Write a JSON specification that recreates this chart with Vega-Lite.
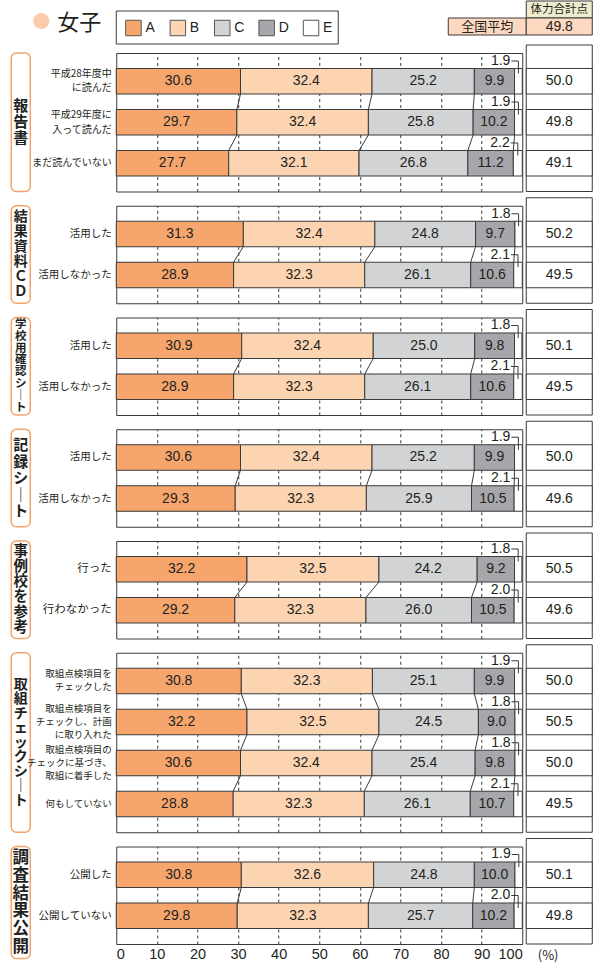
{
 "$schema": "https://vega.github.io/schema/vega-lite/v6.json",
 "padding": {"left": 10.25, "top": 0, "right": 3, "bottom": 2},
 "autosize": {"type": "pad"},
 "background": "white",
 "config": {
  "font": "Noto Sans CJK JP",
  "view": {"stroke": "#3a3a3a", "strokeWidth": 1},
  "text": {"color": "#231f20"}
 },
 "datasets": {
  "segs": [{"seg": "A"}, {"seg": "B"}, {"seg": "C"}, {"seg": "D"}, {"seg": "E"}],
  "national": [{"label": "全国平均", "score": 49.8}],
  "groups": [{"g": "報告書"}, {"g": "結果資料ＣＤ"}, {"g": "学校用確認シート"}, {"g": "記録シート"}, {"g": "事例校を参考"}, {"g": "取組チェックシート"}, {"g": "調査結果公開"}],
  "rows": [
   {"g": "報告書", "label": "平成28年度中\nに読んだ", "order": 1, "A": 30.6, "B": 32.4, "C": 25.2, "D": 9.9, "E": 1.9, "score": 50.0},
   {"g": "報告書", "label": "平成29年度に\n入って読んだ", "order": 2, "A": 29.7, "B": 32.4, "C": 25.8, "D": 10.2, "E": 1.9, "score": 49.8},
   {"g": "報告書", "label": "まだ読んでいない", "order": 3, "A": 27.7, "B": 32.1, "C": 26.8, "D": 11.2, "E": 2.2, "score": 49.1},
   {"g": "結果資料ＣＤ", "label": "活用した", "order": 1, "A": 31.3, "B": 32.4, "C": 24.8, "D": 9.7, "E": 1.8, "score": 50.2},
   {"g": "結果資料ＣＤ", "label": "活用しなかった", "order": 2, "A": 28.9, "B": 32.3, "C": 26.1, "D": 10.6, "E": 2.1, "score": 49.5},
   {"g": "学校用確認シート", "label": "活用した", "order": 1, "A": 30.9, "B": 32.4, "C": 25.0, "D": 9.8, "E": 1.8, "score": 50.1},
   {"g": "学校用確認シート", "label": "活用しなかった", "order": 2, "A": 28.9, "B": 32.3, "C": 26.1, "D": 10.6, "E": 2.1, "score": 49.5},
   {"g": "記録シート", "label": "活用した", "order": 1, "A": 30.6, "B": 32.4, "C": 25.2, "D": 9.9, "E": 1.9, "score": 50.0},
   {"g": "記録シート", "label": "活用しなかった", "order": 2, "A": 29.3, "B": 32.3, "C": 25.9, "D": 10.5, "E": 2.1, "score": 49.6},
   {"g": "事例校を参考", "label": "行った", "order": 1, "A": 32.2, "B": 32.5, "C": 24.2, "D": 9.2, "E": 1.8, "score": 50.5},
   {"g": "事例校を参考", "label": "行わなかった", "order": 2, "A": 29.2, "B": 32.3, "C": 26.0, "D": 10.5, "E": 2.0, "score": 49.6},
   {"g": "取組チェックシート", "label": "取組点検項目を\nチェックした", "order": 1, "A": 30.8, "B": 32.3, "C": 25.1, "D": 9.9, "E": 1.9, "score": 50.0},
   {"g": "取組チェックシート", "label": "取組点検項目を\nチェックし、計画\nに取り入れた", "order": 2, "A": 32.2, "B": 32.5, "C": 24.5, "D": 9.0, "E": 1.8, "score": 50.5},
   {"g": "取組チェックシート", "label": "取組点検項目の\nチェックに基づき、\n取組に着手した", "order": 3, "A": 30.6, "B": 32.4, "C": 25.4, "D": 9.8, "E": 1.8, "score": 50.0},
   {"g": "取組チェックシート", "label": "何もしていない", "order": 4, "A": 28.8, "B": 32.3, "C": 26.1, "D": 10.7, "E": 2.1, "score": 49.5},
   {"g": "調査結果公開", "label": "公開した", "order": 1, "A": 30.8, "B": 32.6, "C": 24.8, "D": 10.0, "E": 1.9, "score": 50.1},
   {"g": "調査結果公開", "label": "公開していない", "order": 2, "A": 29.8, "B": 32.3, "C": 25.7, "D": 10.2, "E": 2.0, "score": 49.8}
  ]
 },
 "spacing": -1,
 "vconcat": [
  {
   "bounds": "flush", "spacing": 4,
   "hconcat": [
    {"width": 101, "height": 43, "view": {"stroke": null},
     "data": {"values": [{"t": "女子"}]},
     "layer": [
      {"mark": {"type": "point", "shape": "circle", "filled": true, "color": "#FBCCAA", "opacity": 1, "size": 260, "xOffset": -20.5, "yOffset": -1.5}},
      {"mark": {"type": "text", "fontSize": 22, "align": "left", "dx": -4.5, "color": "#231f20"}, "encoding": {"text": {"field": "t"}}}
     ]},
    {"width": 406, "height": 43, "view": {"stroke": null},
     "resolve": {"scale": {"x": "independent", "y": "independent"}},
     "layer": [
      {"data": {"values": [{}]},
       "mark": {"type": "rect", "fill": "white", "stroke": "#3a3a3a", "strokeWidth": 1},
       "encoding": {"x": {"datum": "legend", "type": "nominal", "scale": {"type": "band", "domain": ["legend"], "range": [0, 222], "paddingInner": 0, "paddingOuter": 0}, "axis": null},
                    "y": {"datum": "legend", "type": "nominal", "scale": {"type": "band", "domain": ["legend"], "range": [10, 43], "paddingInner": 0, "paddingOuter": 0}, "axis": null}}},
      {"data": {"name": "segs"},
       "mark": {"type": "point", "shape": "square", "filled": true, "opacity": 1, "size": 240, "stroke": "#555555", "strokeWidth": 1, "xOffset": -5, "yOffset": 5.5},
       "encoding": {"x": {"field": "seg", "type": "nominal", "scale": {"type": "band", "domain": ["A", "B", "C", "D", "E"], "range": [0, 222], "paddingInner": 0, "paddingOuter": 0}, "axis": null},
                    "fill": {"field": "seg", "type": "nominal", "scale": {"domain": ["A", "B", "C", "D", "E"], "range": ["#F6A66C", "#FCD4B2", "#D2D3D5", "#A6A7AA", "#FFFFFF"]}, "legend": null}}},
      {"data": {"name": "segs"},
       "mark": {"type": "text", "align": "left", "dx": 7, "dy": 5.5, "fontSize": 14, "font": "Liberation Sans", "color": "#231f20"},
       "encoding": {"x": {"field": "seg", "type": "nominal", "scale": {"type": "band", "domain": ["A", "B", "C", "D", "E"], "range": [0, 222], "paddingInner": 0, "paddingOuter": 0}, "axis": null},
                    "text": {"field": "seg"}}},
      {"data": {"name": "national"},
       "mark": {"type": "rect", "fill": "#FCD9C0", "stroke": "#3a3a3a", "strokeWidth": 1},
       "encoding": {"x": {"field": "label", "type": "nominal", "scale": {"type": "band", "domain": ["全国平均"], "range": [332, 410], "paddingInner": 0, "paddingOuter": 0}, "axis": null},
                    "y": {"field": "label", "type": "nominal", "scale": {"type": "band", "domain": ["全国平均"], "range": [17, 34], "paddingInner": 0, "paddingOuter": 0}, "axis": null}}},
      {"data": {"name": "national"},
       "mark": {"type": "text", "fontSize": 13, "color": "#231f20"},
       "encoding": {"x": {"field": "label", "type": "nominal", "scale": {"type": "band", "domain": ["全国平均"], "range": [332, 410], "paddingInner": 0, "paddingOuter": 0}, "axis": null},
                    "y": {"field": "label", "type": "nominal", "scale": {"type": "band", "domain": ["全国平均"], "range": [17, 34], "paddingInner": 0, "paddingOuter": 0}, "axis": null},
                    "text": {"field": "label"}}}
     ]},
    {"width": 66, "height": 43, "view": {"stroke": null},
     "data": {"name": "national"},
     "layer": [
      {"mark": {"type": "rect", "fill": "#EFEBCE", "stroke": "#3a3a3a", "strokeWidth": 1},
       "encoding": {"y": {"datum": "体力合計点", "type": "nominal", "scale": {"type": "band", "domain": ["体力合計点", "全国平均"], "range": [0, 34], "paddingInner": 0, "paddingOuter": 0}, "axis": null}}},
      {"mark": {"type": "text", "text": "体力合計点", "fontSize": 11.5, "color": "#231f20"},
       "encoding": {"y": {"datum": "体力合計点", "type": "nominal"}}},
      {"mark": {"type": "rect", "fill": "#FCD9C0", "stroke": "#3a3a3a", "strokeWidth": 1},
       "encoding": {"y": {"field": "label", "type": "nominal"}}},
      {"mark": {"type": "text", "fontSize": 14, "font": "Liberation Sans", "color": "#231f20"},
       "encoding": {"y": {"field": "label", "type": "nominal"}, "text": {"field": "score", "type": "quantitative", "format": ".1f"}}}
     ]}
   ]
  },
  {
   "spacing": 3.75,
   "vconcat": [
    {"bounds": "flush", "spacing": 4, "hconcat": [
     {"width": 101, "height": 138.5, "view": {"stroke": null}, "data": {"name": "groups"},
      "transform": [{"filter": {"field": "g", "equal": "報告書"}}, {"calculate": "split(replace(datum.g, 'ー', '｜'), '')", "as": "chars"}],
      "encoding": {"x": {"field": "g", "type": "nominal", "scale": {"type": "band", "range": [0, 19], "paddingInner": 0, "paddingOuter": 0}, "axis": null}},
      "layer": [
       {"mark": {"type": "rect", "fill": "white", "stroke": "#F4A46C", "strokeWidth": 1.5, "cornerRadius": 5}},
       {"mark": {"type": "text", "fontSize": 15, "lineHeight": 16, "dy": -16, "fontWeight": "bold", "color": "#231f20"}, "encoding": {"text": {"field": "chars"}}}
      ]},
     {"width": 406, "height": 138.5, "data": {"name": "rows"},
      "transform": [
       {"filter": {"field": "g", "equal": "報告書"}},
       {"fold": ["A", "B", "C", "D", "E"], "as": ["seg", "value"]},
       {"stack": "value", "groupby": ["label"], "sort": [{"field": "seg", "order": "ascending"}], "as": ["x0", "x1"]},
       {"calculate": "(datum.x0 + datum.x1) / 2", "as": "xm"}
      ],
      "encoding": {"y": {"field": "label", "type": "nominal", "scale": {"type": "band", "domain": ["平成28年度中\nに読んだ", "平成29年度に\n入って読んだ", "まだ読んでいない"], "paddingInner": 0.378, "paddingOuter": 0.378, "round": false},
       "axis": {"title": null, "domain": false, "ticks": false, "labelPadding": 5, "labelFontSize": 10, "labelLineHeight": 14.5, "labelExpr": "split(datum.label, '\\n')", "labelColor": "#231f20", "labelLimit": 0, "labelFont": "Noto Sans CJK JP",
        "labelOffset": {"condition": [{"test": "length(split(datum.label, '\\n')) == 3", "value": -14.5}, {"test": "length(split(datum.label, '\\n')) == 2", "value": -7.25}], "value": 0}}}},
      "layer": [
       {"mark": {"type": "bar", "stroke": "#3a3a3a", "strokeWidth": 1},
        "encoding": {"x": {"field": "x0", "type": "quantitative", "scale": {"domain": [0, 100], "nice": false, "zero": false},
          "axis": {"grid": true, "values": [10, 20, 30, 40, 50, 60, 70, 80, 90], "labels": false, "ticks": false, "domain": false, "title": null, "gridDash": [3, 3], "gridColor": "#3a3a3a", "gridOpacity": 1}},
         "x2": {"field": "x1"},
         "color": {"field": "seg", "type": "nominal", "scale": {"domain": ["A", "B", "C", "D", "E"], "range": ["#F6A66C", "#FCD4B2", "#D2D3D5", "#A6A7AA", "#FFFFFF"]}, "legend": null}}},
       {"transform": [{"window": [{"op": "lead", "field": "x1", "as": "nx"}, {"op": "lead", "field": "label", "as": "nl"}], "groupby": ["seg"], "sort": [{"field": "order", "order": "ascending"}]}, {"filter": "datum.nl != null && datum.seg != 'E'"}],
        "mark": {"type": "rule", "color": "#3a3a3a", "strokeWidth": 1},
        "encoding": {"x": {"field": "x1", "type": "quantitative"}, "x2": {"field": "nx"}, "y": {"field": "label", "type": "nominal", "bandPosition": 1}, "y2": {"field": "nl", "bandPosition": 0}}},
       {"transform": [{"filter": "datum.seg != 'E'"}], "mark": {"type": "text", "fontSize": 14, "font": "Liberation Sans", "color": "#231f20"},
        "encoding": {"x": {"field": "xm", "type": "quantitative"}, "text": {"field": "value", "type": "quantitative", "format": ".1f"}}},
       {"transform": [{"filter": "datum.seg == 'E'"}], "mark": {"type": "text", "fontSize": 14, "font": "Liberation Sans", "align": "right", "dx": -8, "dy": -7.5, "color": "#231f20"},
        "encoding": {"x": {"field": "xm", "type": "quantitative"}, "y": {"field": "label", "type": "nominal", "bandPosition": 0}, "text": {"field": "value", "type": "quantitative", "format": ".1f"}}},
       {"transform": [{"filter": "datum.seg == 'E'"}], "mark": {"type": "rule", "color": "#3a3a3a", "strokeWidth": 1, "xOffset": -7, "yOffset": -7.5, "y2Offset": -7.5},
        "encoding": {"x": {"field": "xm", "type": "quantitative"}, "x2": {"field": "xm"}, "y": {"field": "label", "type": "nominal", "bandPosition": 0}}},
       {"transform": [{"filter": "datum.seg == 'E'"}], "mark": {"type": "rule", "color": "#3a3a3a", "strokeWidth": 1, "yOffset": -7.5, "y2Offset": 5},
        "encoding": {"x": {"field": "xm", "type": "quantitative"}, "y": {"field": "label", "type": "nominal", "bandPosition": 0}, "y2": {"field": "label", "bandPosition": 0}}}
      ]},
     {"width": 66, "height": 138.5, "view": {"stroke": null}, "data": {"name": "rows"},
      "transform": [{"filter": {"field": "g", "equal": "報告書"}}],
      "layer": [
       {"transform": [{"aggregate": [{"op": "count", "as": "n"}]}], "mark": {"type": "rect", "fill": "white", "stroke": "#3a3a3a", "strokeWidth": 1, "yOffset": -8}},
       {"mark": {"type": "rect", "fill": "white", "stroke": "#3a3a3a", "strokeWidth": 1},
        "encoding": {"y": {"field": "label", "type": "nominal", "scale": {"type": "band", "domain": ["平成28年度中\nに読んだ", "平成29年度に\n入って読んだ", "まだ読んでいない"], "paddingInner": 0.378, "paddingOuter": 0.378, "round": false}, "axis": null}}},
       {"mark": {"type": "text", "fontSize": 14, "font": "Liberation Sans", "color": "#231f20"},
        "encoding": {"y": {"field": "label", "type": "nominal"}, "text": {"field": "score", "type": "quantitative", "format": ".1f"}}}
      ]}
    ]},
    {"bounds": "flush", "spacing": 4, "hconcat": [
     {"width": 101, "height": 97.5, "view": {"stroke": null}, "data": {"name": "groups"},
      "transform": [{"filter": {"field": "g", "equal": "結果資料ＣＤ"}}, {"calculate": "split(replace(datum.g, 'ー', '｜'), '')", "as": "chars"}],
      "encoding": {"x": {"field": "g", "type": "nominal", "scale": {"type": "band", "range": [0, 19], "paddingInner": 0, "paddingOuter": 0}, "axis": null}},
      "layer": [
       {"mark": {"type": "rect", "fill": "white", "stroke": "#F4A46C", "strokeWidth": 1.5, "cornerRadius": 5}},
       {"mark": {"type": "text", "fontSize": 14, "lineHeight": 15, "dy": -37.5, "fontWeight": "bold", "color": "#231f20"}, "encoding": {"text": {"field": "chars"}}}
      ]},
     {"width": 406, "height": 97.5, "data": {"name": "rows"},
      "transform": [
       {"filter": {"field": "g", "equal": "結果資料ＣＤ"}},
       {"fold": ["A", "B", "C", "D", "E"], "as": ["seg", "value"]},
       {"stack": "value", "groupby": ["label"], "sort": [{"field": "seg", "order": "ascending"}], "as": ["x0", "x1"]},
       {"calculate": "(datum.x0 + datum.x1) / 2", "as": "xm"}
      ],
      "encoding": {"y": {"field": "label", "type": "nominal", "scale": {"type": "band", "domain": ["活用した", "活用しなかった"], "paddingInner": 0.378, "paddingOuter": 0.378, "round": false},
       "axis": {"title": null, "domain": false, "ticks": false, "labelPadding": 5, "labelFontSize": 10.5, "labelLineHeight": 14, "labelExpr": "split(datum.label, '\\n')", "labelColor": "#231f20", "labelLimit": 0, "labelFont": "Noto Sans CJK JP"}}},
      "layer": [
       {"mark": {"type": "bar", "stroke": "#3a3a3a", "strokeWidth": 1},
        "encoding": {"x": {"field": "x0", "type": "quantitative", "scale": {"domain": [0, 100], "nice": false, "zero": false},
          "axis": {"grid": true, "values": [10, 20, 30, 40, 50, 60, 70, 80, 90], "labels": false, "ticks": false, "domain": false, "title": null, "gridDash": [3, 3], "gridColor": "#3a3a3a", "gridOpacity": 1}},
         "x2": {"field": "x1"},
         "color": {"field": "seg", "type": "nominal", "scale": {"domain": ["A", "B", "C", "D", "E"], "range": ["#F6A66C", "#FCD4B2", "#D2D3D5", "#A6A7AA", "#FFFFFF"]}, "legend": null}}},
       {"transform": [{"window": [{"op": "lead", "field": "x1", "as": "nx"}, {"op": "lead", "field": "label", "as": "nl"}], "groupby": ["seg"], "sort": [{"field": "order", "order": "ascending"}]}, {"filter": "datum.nl != null && datum.seg != 'E'"}],
        "mark": {"type": "rule", "color": "#3a3a3a", "strokeWidth": 1},
        "encoding": {"x": {"field": "x1", "type": "quantitative"}, "x2": {"field": "nx"}, "y": {"field": "label", "type": "nominal", "bandPosition": 1}, "y2": {"field": "nl", "bandPosition": 0}}},
       {"transform": [{"filter": "datum.seg != 'E'"}], "mark": {"type": "text", "fontSize": 14, "font": "Liberation Sans", "color": "#231f20"},
        "encoding": {"x": {"field": "xm", "type": "quantitative"}, "text": {"field": "value", "type": "quantitative", "format": ".1f"}}},
       {"transform": [{"filter": "datum.seg == 'E'"}], "mark": {"type": "text", "fontSize": 14, "font": "Liberation Sans", "align": "right", "dx": -8, "dy": -7.5, "color": "#231f20"},
        "encoding": {"x": {"field": "xm", "type": "quantitative"}, "y": {"field": "label", "type": "nominal", "bandPosition": 0}, "text": {"field": "value", "type": "quantitative", "format": ".1f"}}},
       {"transform": [{"filter": "datum.seg == 'E'"}], "mark": {"type": "rule", "color": "#3a3a3a", "strokeWidth": 1, "xOffset": -7, "yOffset": -7.5, "y2Offset": -7.5},
        "encoding": {"x": {"field": "xm", "type": "quantitative"}, "x2": {"field": "xm"}, "y": {"field": "label", "type": "nominal", "bandPosition": 0}}},
       {"transform": [{"filter": "datum.seg == 'E'"}], "mark": {"type": "rule", "color": "#3a3a3a", "strokeWidth": 1, "yOffset": -7.5, "y2Offset": 5},
        "encoding": {"x": {"field": "xm", "type": "quantitative"}, "y": {"field": "label", "type": "nominal", "bandPosition": 0}, "y2": {"field": "label", "bandPosition": 0}}}
      ]},
     {"width": 66, "height": 97.5, "view": {"stroke": null}, "data": {"name": "rows"},
      "transform": [{"filter": {"field": "g", "equal": "結果資料ＣＤ"}}],
      "layer": [
       {"transform": [{"aggregate": [{"op": "count", "as": "n"}]}], "mark": {"type": "rect", "fill": "white", "stroke": "#3a3a3a", "strokeWidth": 1, "yOffset": -8}},
       {"mark": {"type": "rect", "fill": "white", "stroke": "#3a3a3a", "strokeWidth": 1},
        "encoding": {"y": {"field": "label", "type": "nominal", "scale": {"type": "band", "domain": ["活用した", "活用しなかった"], "paddingInner": 0.378, "paddingOuter": 0.378, "round": false}, "axis": null}}},
       {"mark": {"type": "text", "fontSize": 14, "font": "Liberation Sans", "color": "#231f20"},
        "encoding": {"y": {"field": "label", "type": "nominal"}, "text": {"field": "score", "type": "quantitative", "format": ".1f"}}}
      ]}
    ]},
    {"bounds": "flush", "spacing": 4, "hconcat": [
     {"width": 101, "height": 97.5, "view": {"stroke": null}, "data": {"name": "groups"},
      "transform": [{"filter": {"field": "g", "equal": "学校用確認シート"}}, {"calculate": "split(replace(datum.g, 'ー', '｜'), '')", "as": "chars"}],
      "encoding": {"x": {"field": "g", "type": "nominal", "scale": {"type": "band", "range": [0, 19], "paddingInner": 0, "paddingOuter": 0}, "axis": null}},
      "layer": [
       {"mark": {"type": "rect", "fill": "white", "stroke": "#F4A46C", "strokeWidth": 1.5, "cornerRadius": 5}},
       {"mark": {"type": "text", "fontSize": 11.5, "lineHeight": 11.8, "dy": -41.3, "fontWeight": "bold", "color": "#231f20"}, "encoding": {"text": {"field": "chars"}}}
      ]},
     {"width": 406, "height": 97.5, "data": {"name": "rows"},
      "transform": [
       {"filter": {"field": "g", "equal": "学校用確認シート"}},
       {"fold": ["A", "B", "C", "D", "E"], "as": ["seg", "value"]},
       {"stack": "value", "groupby": ["label"], "sort": [{"field": "seg", "order": "ascending"}], "as": ["x0", "x1"]},
       {"calculate": "(datum.x0 + datum.x1) / 2", "as": "xm"}
      ],
      "encoding": {"y": {"field": "label", "type": "nominal", "scale": {"type": "band", "domain": ["活用した", "活用しなかった"], "paddingInner": 0.378, "paddingOuter": 0.378, "round": false},
       "axis": {"title": null, "domain": false, "ticks": false, "labelPadding": 5, "labelFontSize": 10.5, "labelLineHeight": 14, "labelExpr": "split(datum.label, '\\n')", "labelColor": "#231f20", "labelLimit": 0, "labelFont": "Noto Sans CJK JP"}}},
      "layer": [
       {"mark": {"type": "bar", "stroke": "#3a3a3a", "strokeWidth": 1},
        "encoding": {"x": {"field": "x0", "type": "quantitative", "scale": {"domain": [0, 100], "nice": false, "zero": false},
          "axis": {"grid": true, "values": [10, 20, 30, 40, 50, 60, 70, 80, 90], "labels": false, "ticks": false, "domain": false, "title": null, "gridDash": [3, 3], "gridColor": "#3a3a3a", "gridOpacity": 1}},
         "x2": {"field": "x1"},
         "color": {"field": "seg", "type": "nominal", "scale": {"domain": ["A", "B", "C", "D", "E"], "range": ["#F6A66C", "#FCD4B2", "#D2D3D5", "#A6A7AA", "#FFFFFF"]}, "legend": null}}},
       {"transform": [{"window": [{"op": "lead", "field": "x1", "as": "nx"}, {"op": "lead", "field": "label", "as": "nl"}], "groupby": ["seg"], "sort": [{"field": "order", "order": "ascending"}]}, {"filter": "datum.nl != null && datum.seg != 'E'"}],
        "mark": {"type": "rule", "color": "#3a3a3a", "strokeWidth": 1},
        "encoding": {"x": {"field": "x1", "type": "quantitative"}, "x2": {"field": "nx"}, "y": {"field": "label", "type": "nominal", "bandPosition": 1}, "y2": {"field": "nl", "bandPosition": 0}}},
       {"transform": [{"filter": "datum.seg != 'E'"}], "mark": {"type": "text", "fontSize": 14, "font": "Liberation Sans", "color": "#231f20"},
        "encoding": {"x": {"field": "xm", "type": "quantitative"}, "text": {"field": "value", "type": "quantitative", "format": ".1f"}}},
       {"transform": [{"filter": "datum.seg == 'E'"}], "mark": {"type": "text", "fontSize": 14, "font": "Liberation Sans", "align": "right", "dx": -8, "dy": -7.5, "color": "#231f20"},
        "encoding": {"x": {"field": "xm", "type": "quantitative"}, "y": {"field": "label", "type": "nominal", "bandPosition": 0}, "text": {"field": "value", "type": "quantitative", "format": ".1f"}}},
       {"transform": [{"filter": "datum.seg == 'E'"}], "mark": {"type": "rule", "color": "#3a3a3a", "strokeWidth": 1, "xOffset": -7, "yOffset": -7.5, "y2Offset": -7.5},
        "encoding": {"x": {"field": "xm", "type": "quantitative"}, "x2": {"field": "xm"}, "y": {"field": "label", "type": "nominal", "bandPosition": 0}}},
       {"transform": [{"filter": "datum.seg == 'E'"}], "mark": {"type": "rule", "color": "#3a3a3a", "strokeWidth": 1, "yOffset": -7.5, "y2Offset": 5},
        "encoding": {"x": {"field": "xm", "type": "quantitative"}, "y": {"field": "label", "type": "nominal", "bandPosition": 0}, "y2": {"field": "label", "bandPosition": 0}}}
      ]},
     {"width": 66, "height": 97.5, "view": {"stroke": null}, "data": {"name": "rows"},
      "transform": [{"filter": {"field": "g", "equal": "学校用確認シート"}}],
      "layer": [
       {"transform": [{"aggregate": [{"op": "count", "as": "n"}]}], "mark": {"type": "rect", "fill": "white", "stroke": "#3a3a3a", "strokeWidth": 1, "yOffset": -8}},
       {"mark": {"type": "rect", "fill": "white", "stroke": "#3a3a3a", "strokeWidth": 1},
        "encoding": {"y": {"field": "label", "type": "nominal", "scale": {"type": "band", "domain": ["活用した", "活用しなかった"], "paddingInner": 0.378, "paddingOuter": 0.378, "round": false}, "axis": null}}},
       {"mark": {"type": "text", "fontSize": 14, "font": "Liberation Sans", "color": "#231f20"},
        "encoding": {"y": {"field": "label", "type": "nominal"}, "text": {"field": "score", "type": "quantitative", "format": ".1f"}}}
      ]}
    ]},
    {"bounds": "flush", "spacing": 4, "hconcat": [
     {"width": 101, "height": 97.5, "view": {"stroke": null}, "data": {"name": "groups"},
      "transform": [{"filter": {"field": "g", "equal": "記録シート"}}, {"calculate": "split(replace(datum.g, 'ー', '｜'), '')", "as": "chars"}],
      "encoding": {"x": {"field": "g", "type": "nominal", "scale": {"type": "band", "range": [0, 19], "paddingInner": 0, "paddingOuter": 0}, "axis": null}},
      "layer": [
       {"mark": {"type": "rect", "fill": "white", "stroke": "#F4A46C", "strokeWidth": 1.5, "cornerRadius": 5}},
       {"mark": {"type": "text", "fontSize": 15, "lineHeight": 16.5, "dy": -33, "fontWeight": "bold", "color": "#231f20"}, "encoding": {"text": {"field": "chars"}}}
      ]},
     {"width": 406, "height": 97.5, "data": {"name": "rows"},
      "transform": [
       {"filter": {"field": "g", "equal": "記録シート"}},
       {"fold": ["A", "B", "C", "D", "E"], "as": ["seg", "value"]},
       {"stack": "value", "groupby": ["label"], "sort": [{"field": "seg", "order": "ascending"}], "as": ["x0", "x1"]},
       {"calculate": "(datum.x0 + datum.x1) / 2", "as": "xm"}
      ],
      "encoding": {"y": {"field": "label", "type": "nominal", "scale": {"type": "band", "domain": ["活用した", "活用しなかった"], "paddingInner": 0.378, "paddingOuter": 0.378, "round": false},
       "axis": {"title": null, "domain": false, "ticks": false, "labelPadding": 5, "labelFontSize": 10.5, "labelLineHeight": 14, "labelExpr": "split(datum.label, '\\n')", "labelColor": "#231f20", "labelLimit": 0, "labelFont": "Noto Sans CJK JP"}}},
      "layer": [
       {"mark": {"type": "bar", "stroke": "#3a3a3a", "strokeWidth": 1},
        "encoding": {"x": {"field": "x0", "type": "quantitative", "scale": {"domain": [0, 100], "nice": false, "zero": false},
          "axis": {"grid": true, "values": [10, 20, 30, 40, 50, 60, 70, 80, 90], "labels": false, "ticks": false, "domain": false, "title": null, "gridDash": [3, 3], "gridColor": "#3a3a3a", "gridOpacity": 1}},
         "x2": {"field": "x1"},
         "color": {"field": "seg", "type": "nominal", "scale": {"domain": ["A", "B", "C", "D", "E"], "range": ["#F6A66C", "#FCD4B2", "#D2D3D5", "#A6A7AA", "#FFFFFF"]}, "legend": null}}},
       {"transform": [{"window": [{"op": "lead", "field": "x1", "as": "nx"}, {"op": "lead", "field": "label", "as": "nl"}], "groupby": ["seg"], "sort": [{"field": "order", "order": "ascending"}]}, {"filter": "datum.nl != null && datum.seg != 'E'"}],
        "mark": {"type": "rule", "color": "#3a3a3a", "strokeWidth": 1},
        "encoding": {"x": {"field": "x1", "type": "quantitative"}, "x2": {"field": "nx"}, "y": {"field": "label", "type": "nominal", "bandPosition": 1}, "y2": {"field": "nl", "bandPosition": 0}}},
       {"transform": [{"filter": "datum.seg != 'E'"}], "mark": {"type": "text", "fontSize": 14, "font": "Liberation Sans", "color": "#231f20"},
        "encoding": {"x": {"field": "xm", "type": "quantitative"}, "text": {"field": "value", "type": "quantitative", "format": ".1f"}}},
       {"transform": [{"filter": "datum.seg == 'E'"}], "mark": {"type": "text", "fontSize": 14, "font": "Liberation Sans", "align": "right", "dx": -8, "dy": -7.5, "color": "#231f20"},
        "encoding": {"x": {"field": "xm", "type": "quantitative"}, "y": {"field": "label", "type": "nominal", "bandPosition": 0}, "text": {"field": "value", "type": "quantitative", "format": ".1f"}}},
       {"transform": [{"filter": "datum.seg == 'E'"}], "mark": {"type": "rule", "color": "#3a3a3a", "strokeWidth": 1, "xOffset": -7, "yOffset": -7.5, "y2Offset": -7.5},
        "encoding": {"x": {"field": "xm", "type": "quantitative"}, "x2": {"field": "xm"}, "y": {"field": "label", "type": "nominal", "bandPosition": 0}}},
       {"transform": [{"filter": "datum.seg == 'E'"}], "mark": {"type": "rule", "color": "#3a3a3a", "strokeWidth": 1, "yOffset": -7.5, "y2Offset": 5},
        "encoding": {"x": {"field": "xm", "type": "quantitative"}, "y": {"field": "label", "type": "nominal", "bandPosition": 0}, "y2": {"field": "label", "bandPosition": 0}}}
      ]},
     {"width": 66, "height": 97.5, "view": {"stroke": null}, "data": {"name": "rows"},
      "transform": [{"filter": {"field": "g", "equal": "記録シート"}}],
      "layer": [
       {"transform": [{"aggregate": [{"op": "count", "as": "n"}]}], "mark": {"type": "rect", "fill": "white", "stroke": "#3a3a3a", "strokeWidth": 1, "yOffset": -8}},
       {"mark": {"type": "rect", "fill": "white", "stroke": "#3a3a3a", "strokeWidth": 1},
        "encoding": {"y": {"field": "label", "type": "nominal", "scale": {"type": "band", "domain": ["活用した", "活用しなかった"], "paddingInner": 0.378, "paddingOuter": 0.378, "round": false}, "axis": null}}},
       {"mark": {"type": "text", "fontSize": 14, "font": "Liberation Sans", "color": "#231f20"},
        "encoding": {"y": {"field": "label", "type": "nominal"}, "text": {"field": "score", "type": "quantitative", "format": ".1f"}}}
      ]}
    ]},
    {"bounds": "flush", "spacing": 4, "hconcat": [
     {"width": 101, "height": 97.5, "view": {"stroke": null}, "data": {"name": "groups"},
      "transform": [{"filter": {"field": "g", "equal": "事例校を参考"}}, {"calculate": "split(replace(datum.g, 'ー', '｜'), '')", "as": "chars"}],
      "encoding": {"x": {"field": "g", "type": "nominal", "scale": {"type": "band", "range": [0, 19], "paddingInner": 0, "paddingOuter": 0}, "axis": null}},
      "layer": [
       {"mark": {"type": "rect", "fill": "white", "stroke": "#F4A46C", "strokeWidth": 1.5, "cornerRadius": 5}},
       {"mark": {"type": "text", "fontSize": 14.5, "lineHeight": 15.3, "dy": -38.25, "fontWeight": "bold", "color": "#231f20"}, "encoding": {"text": {"field": "chars"}}}
      ]},
     {"width": 406, "height": 97.5, "data": {"name": "rows"},
      "transform": [
       {"filter": {"field": "g", "equal": "事例校を参考"}},
       {"fold": ["A", "B", "C", "D", "E"], "as": ["seg", "value"]},
       {"stack": "value", "groupby": ["label"], "sort": [{"field": "seg", "order": "ascending"}], "as": ["x0", "x1"]},
       {"calculate": "(datum.x0 + datum.x1) / 2", "as": "xm"}
      ],
      "encoding": {"y": {"field": "label", "type": "nominal", "scale": {"type": "band", "domain": ["行った", "行わなかった"], "paddingInner": 0.378, "paddingOuter": 0.378, "round": false},
       "axis": {"title": null, "domain": false, "ticks": false, "labelPadding": 5, "labelFontSize": 11.5, "labelLineHeight": 14, "labelExpr": "split(datum.label, '\\n')", "labelColor": "#231f20", "labelLimit": 0, "labelFont": "Noto Sans CJK JP"}}},
      "layer": [
       {"mark": {"type": "bar", "stroke": "#3a3a3a", "strokeWidth": 1},
        "encoding": {"x": {"field": "x0", "type": "quantitative", "scale": {"domain": [0, 100], "nice": false, "zero": false},
          "axis": {"grid": true, "values": [10, 20, 30, 40, 50, 60, 70, 80, 90], "labels": false, "ticks": false, "domain": false, "title": null, "gridDash": [3, 3], "gridColor": "#3a3a3a", "gridOpacity": 1}},
         "x2": {"field": "x1"},
         "color": {"field": "seg", "type": "nominal", "scale": {"domain": ["A", "B", "C", "D", "E"], "range": ["#F6A66C", "#FCD4B2", "#D2D3D5", "#A6A7AA", "#FFFFFF"]}, "legend": null}}},
       {"transform": [{"window": [{"op": "lead", "field": "x1", "as": "nx"}, {"op": "lead", "field": "label", "as": "nl"}], "groupby": ["seg"], "sort": [{"field": "order", "order": "ascending"}]}, {"filter": "datum.nl != null && datum.seg != 'E'"}],
        "mark": {"type": "rule", "color": "#3a3a3a", "strokeWidth": 1},
        "encoding": {"x": {"field": "x1", "type": "quantitative"}, "x2": {"field": "nx"}, "y": {"field": "label", "type": "nominal", "bandPosition": 1}, "y2": {"field": "nl", "bandPosition": 0}}},
       {"transform": [{"filter": "datum.seg != 'E'"}], "mark": {"type": "text", "fontSize": 14, "font": "Liberation Sans", "color": "#231f20"},
        "encoding": {"x": {"field": "xm", "type": "quantitative"}, "text": {"field": "value", "type": "quantitative", "format": ".1f"}}},
       {"transform": [{"filter": "datum.seg == 'E'"}], "mark": {"type": "text", "fontSize": 14, "font": "Liberation Sans", "align": "right", "dx": -8, "dy": -7.5, "color": "#231f20"},
        "encoding": {"x": {"field": "xm", "type": "quantitative"}, "y": {"field": "label", "type": "nominal", "bandPosition": 0}, "text": {"field": "value", "type": "quantitative", "format": ".1f"}}},
       {"transform": [{"filter": "datum.seg == 'E'"}], "mark": {"type": "rule", "color": "#3a3a3a", "strokeWidth": 1, "xOffset": -7, "yOffset": -7.5, "y2Offset": -7.5},
        "encoding": {"x": {"field": "xm", "type": "quantitative"}, "x2": {"field": "xm"}, "y": {"field": "label", "type": "nominal", "bandPosition": 0}}},
       {"transform": [{"filter": "datum.seg == 'E'"}], "mark": {"type": "rule", "color": "#3a3a3a", "strokeWidth": 1, "yOffset": -7.5, "y2Offset": 5},
        "encoding": {"x": {"field": "xm", "type": "quantitative"}, "y": {"field": "label", "type": "nominal", "bandPosition": 0}, "y2": {"field": "label", "bandPosition": 0}}}
      ]},
     {"width": 66, "height": 97.5, "view": {"stroke": null}, "data": {"name": "rows"},
      "transform": [{"filter": {"field": "g", "equal": "事例校を参考"}}],
      "layer": [
       {"transform": [{"aggregate": [{"op": "count", "as": "n"}]}], "mark": {"type": "rect", "fill": "white", "stroke": "#3a3a3a", "strokeWidth": 1, "yOffset": -8}},
       {"mark": {"type": "rect", "fill": "white", "stroke": "#3a3a3a", "strokeWidth": 1},
        "encoding": {"y": {"field": "label", "type": "nominal", "scale": {"type": "band", "domain": ["行った", "行わなかった"], "paddingInner": 0.378, "paddingOuter": 0.378, "round": false}, "axis": null}}},
       {"mark": {"type": "text", "fontSize": 14, "font": "Liberation Sans", "color": "#231f20"},
        "encoding": {"y": {"field": "label", "type": "nominal"}, "text": {"field": "score", "type": "quantitative", "format": ".1f"}}}
      ]}
    ]},
    {"bounds": "flush", "spacing": 4, "hconcat": [
     {"width": 101, "height": 179.5, "view": {"stroke": null}, "data": {"name": "groups"},
      "transform": [{"filter": {"field": "g", "equal": "取組チェックシート"}}, {"calculate": "split(replace(datum.g, 'ー', '｜'), '')", "as": "chars"}],
      "encoding": {"x": {"field": "g", "type": "nominal", "scale": {"type": "band", "range": [0, 19], "paddingInner": 0, "paddingOuter": 0}, "axis": null}},
      "layer": [
       {"mark": {"type": "rect", "fill": "white", "stroke": "#F4A46C", "strokeWidth": 1.5, "cornerRadius": 5}},
       {"mark": {"type": "text", "fontSize": 14, "lineHeight": 14.5, "dy": -58, "fontWeight": "bold", "color": "#231f20"}, "encoding": {"text": {"field": "chars"}}}
      ]},
     {"width": 406, "height": 179.5, "data": {"name": "rows"},
      "transform": [
       {"filter": {"field": "g", "equal": "取組チェックシート"}},
       {"fold": ["A", "B", "C", "D", "E"], "as": ["seg", "value"]},
       {"stack": "value", "groupby": ["label"], "sort": [{"field": "seg", "order": "ascending"}], "as": ["x0", "x1"]},
       {"calculate": "(datum.x0 + datum.x1) / 2", "as": "xm"}
      ],
      "encoding": {"y": {"field": "label", "type": "nominal", "scale": {"type": "band", "domain": ["取組点検項目を\nチェックした", "取組点検項目を\nチェックし、計画\nに取り入れた", "取組点検項目の\nチェックに基づき、\n取組に着手した", "何もしていない"], "paddingInner": 0.378, "paddingOuter": 0.378, "round": false},
       "axis": {"title": null, "domain": false, "ticks": false, "labelPadding": 5, "labelFontSize": 9.5, "labelLineHeight": 13, "labelExpr": "split(datum.label, '\\n')", "labelColor": "#231f20", "labelLimit": 0, "labelFont": "Noto Sans CJK JP",
        "labelOffset": {"condition": [{"test": "length(split(datum.label, '\\n')) == 3", "value": -13}, {"test": "length(split(datum.label, '\\n')) == 2", "value": -6.5}], "value": 0}}}},
      "layer": [
       {"mark": {"type": "bar", "stroke": "#3a3a3a", "strokeWidth": 1},
        "encoding": {"x": {"field": "x0", "type": "quantitative", "scale": {"domain": [0, 100], "nice": false, "zero": false},
          "axis": {"grid": true, "values": [10, 20, 30, 40, 50, 60, 70, 80, 90], "labels": false, "ticks": false, "domain": false, "title": null, "gridDash": [3, 3], "gridColor": "#3a3a3a", "gridOpacity": 1}},
         "x2": {"field": "x1"},
         "color": {"field": "seg", "type": "nominal", "scale": {"domain": ["A", "B", "C", "D", "E"], "range": ["#F6A66C", "#FCD4B2", "#D2D3D5", "#A6A7AA", "#FFFFFF"]}, "legend": null}}},
       {"transform": [{"window": [{"op": "lead", "field": "x1", "as": "nx"}, {"op": "lead", "field": "label", "as": "nl"}], "groupby": ["seg"], "sort": [{"field": "order", "order": "ascending"}]}, {"filter": "datum.nl != null && datum.seg != 'E'"}],
        "mark": {"type": "rule", "color": "#3a3a3a", "strokeWidth": 1},
        "encoding": {"x": {"field": "x1", "type": "quantitative"}, "x2": {"field": "nx"}, "y": {"field": "label", "type": "nominal", "bandPosition": 1}, "y2": {"field": "nl", "bandPosition": 0}}},
       {"transform": [{"filter": "datum.seg != 'E'"}], "mark": {"type": "text", "fontSize": 14, "font": "Liberation Sans", "color": "#231f20"},
        "encoding": {"x": {"field": "xm", "type": "quantitative"}, "text": {"field": "value", "type": "quantitative", "format": ".1f"}}},
       {"transform": [{"filter": "datum.seg == 'E'"}], "mark": {"type": "text", "fontSize": 14, "font": "Liberation Sans", "align": "right", "dx": -8, "dy": -7.5, "color": "#231f20"},
        "encoding": {"x": {"field": "xm", "type": "quantitative"}, "y": {"field": "label", "type": "nominal", "bandPosition": 0}, "text": {"field": "value", "type": "quantitative", "format": ".1f"}}},
       {"transform": [{"filter": "datum.seg == 'E'"}], "mark": {"type": "rule", "color": "#3a3a3a", "strokeWidth": 1, "xOffset": -7, "yOffset": -7.5, "y2Offset": -7.5},
        "encoding": {"x": {"field": "xm", "type": "quantitative"}, "x2": {"field": "xm"}, "y": {"field": "label", "type": "nominal", "bandPosition": 0}}},
       {"transform": [{"filter": "datum.seg == 'E'"}], "mark": {"type": "rule", "color": "#3a3a3a", "strokeWidth": 1, "yOffset": -7.5, "y2Offset": 5},
        "encoding": {"x": {"field": "xm", "type": "quantitative"}, "y": {"field": "label", "type": "nominal", "bandPosition": 0}, "y2": {"field": "label", "bandPosition": 0}}}
      ]},
     {"width": 66, "height": 179.5, "view": {"stroke": null}, "data": {"name": "rows"},
      "transform": [{"filter": {"field": "g", "equal": "取組チェックシート"}}],
      "layer": [
       {"transform": [{"aggregate": [{"op": "count", "as": "n"}]}], "mark": {"type": "rect", "fill": "white", "stroke": "#3a3a3a", "strokeWidth": 1, "yOffset": -8}},
       {"mark": {"type": "rect", "fill": "white", "stroke": "#3a3a3a", "strokeWidth": 1},
        "encoding": {"y": {"field": "label", "type": "nominal", "scale": {"type": "band", "domain": ["取組点検項目を\nチェックした", "取組点検項目を\nチェックし、計画\nに取り入れた", "取組点検項目の\nチェックに基づき、\n取組に着手した", "何もしていない"], "paddingInner": 0.378, "paddingOuter": 0.378, "round": false}, "axis": null}}},
       {"mark": {"type": "text", "fontSize": 14, "font": "Liberation Sans", "color": "#231f20"},
        "encoding": {"y": {"field": "label", "type": "nominal"}, "text": {"field": "score", "type": "quantitative", "format": ".1f"}}}
      ]}
    ]},
    {"bounds": "flush", "spacing": 4, "hconcat": [
     {"width": 101, "height": 112, "view": {"stroke": null}, "data": {"name": "groups"},
      "transform": [{"filter": {"field": "g", "equal": "調査結果公開"}}, {"calculate": "split(replace(datum.g, 'ー', '｜'), '')", "as": "chars"}],
      "encoding": {"x": {"field": "g", "type": "nominal", "scale": {"type": "band", "range": [0, 19], "paddingInner": 0, "paddingOuter": 0}, "axis": null}},
      "layer": [
       {"mark": {"type": "rect", "fill": "white", "stroke": "#F4A46C", "strokeWidth": 1.5, "cornerRadius": 5}},
       {"mark": {"type": "text", "fontSize": 16.5, "lineHeight": 17.7, "dy": -44.25, "fontWeight": "bold", "color": "#231f20"}, "encoding": {"text": {"field": "chars"}}}
      ]},
     {"width": 406, "height": 97.5, "data": {"name": "rows"},
      "transform": [
       {"filter": {"field": "g", "equal": "調査結果公開"}},
       {"fold": ["A", "B", "C", "D", "E"], "as": ["seg", "value"]},
       {"stack": "value", "groupby": ["label"], "sort": [{"field": "seg", "order": "ascending"}], "as": ["x0", "x1"]},
       {"calculate": "(datum.x0 + datum.x1) / 2", "as": "xm"}
      ],
      "encoding": {"y": {"field": "label", "type": "nominal", "scale": {"type": "band", "domain": ["公開した", "公開していない"], "paddingInner": 0.378, "paddingOuter": 0.378, "round": false},
       "axis": {"title": null, "domain": false, "ticks": false, "labelPadding": 5, "labelFontSize": 10.5, "labelLineHeight": 14, "labelExpr": "split(datum.label, '\\n')", "labelColor": "#231f20", "labelLimit": 0, "labelFont": "Noto Sans CJK JP"}}},
      "layer": [
       {"mark": {"type": "bar", "stroke": "#3a3a3a", "strokeWidth": 1},
        "encoding": {"x": {"field": "x0", "type": "quantitative", "scale": {"domain": [0, 100], "nice": false, "zero": false},
          "axis": {"grid": true, "values": [0, 10, 20, 30, 40, 50, 60, 70, 80, 90, 100], "gridOpacity": {"condition": {"test": "datum.value == 0 || datum.value == 100", "value": 0}, "value": 1},
           "labels": true, "labelFontSize": 14.5, "labelFont": "Liberation Sans", "labelPadding": 3, "labelColor": "#231f20", "ticks": false, "domain": false,
           "title": "(%)", "titleFontSize": 13, "titleFontWeight": "normal", "titleFont": "Noto Sans CJK JP", "titleColor": "#231f20", "titleX": 421, "titleY": 11, "titleAlign": "left", "titleBaseline": "middle",
           "gridDash": [3, 3], "gridColor": "#3a3a3a"}},
         "x2": {"field": "x1"},
         "color": {"field": "seg", "type": "nominal", "scale": {"domain": ["A", "B", "C", "D", "E"], "range": ["#F6A66C", "#FCD4B2", "#D2D3D5", "#A6A7AA", "#FFFFFF"]}, "legend": null}}},
       {"transform": [{"window": [{"op": "lead", "field": "x1", "as": "nx"}, {"op": "lead", "field": "label", "as": "nl"}], "groupby": ["seg"], "sort": [{"field": "order", "order": "ascending"}]}, {"filter": "datum.nl != null && datum.seg != 'E'"}],
        "mark": {"type": "rule", "color": "#3a3a3a", "strokeWidth": 1},
        "encoding": {"x": {"field": "x1", "type": "quantitative"}, "x2": {"field": "nx"}, "y": {"field": "label", "type": "nominal", "bandPosition": 1}, "y2": {"field": "nl", "bandPosition": 0}}},
       {"transform": [{"filter": "datum.seg != 'E'"}], "mark": {"type": "text", "fontSize": 14, "font": "Liberation Sans", "color": "#231f20"},
        "encoding": {"x": {"field": "xm", "type": "quantitative"}, "text": {"field": "value", "type": "quantitative", "format": ".1f"}}},
       {"transform": [{"filter": "datum.seg == 'E'"}], "mark": {"type": "text", "fontSize": 14, "font": "Liberation Sans", "align": "right", "dx": -8, "dy": -7.5, "color": "#231f20"},
        "encoding": {"x": {"field": "xm", "type": "quantitative"}, "y": {"field": "label", "type": "nominal", "bandPosition": 0}, "text": {"field": "value", "type": "quantitative", "format": ".1f"}}},
       {"transform": [{"filter": "datum.seg == 'E'"}], "mark": {"type": "rule", "color": "#3a3a3a", "strokeWidth": 1, "xOffset": -7, "yOffset": -7.5, "y2Offset": -7.5},
        "encoding": {"x": {"field": "xm", "type": "quantitative"}, "x2": {"field": "xm"}, "y": {"field": "label", "type": "nominal", "bandPosition": 0}}},
       {"transform": [{"filter": "datum.seg == 'E'"}], "mark": {"type": "rule", "color": "#3a3a3a", "strokeWidth": 1, "yOffset": -7.5, "y2Offset": 5},
        "encoding": {"x": {"field": "xm", "type": "quantitative"}, "y": {"field": "label", "type": "nominal", "bandPosition": 0}, "y2": {"field": "label", "bandPosition": 0}}}
      ]},
     {"width": 66, "height": 97.5, "view": {"stroke": null}, "data": {"name": "rows"},
      "transform": [{"filter": {"field": "g", "equal": "調査結果公開"}}],
      "layer": [
       {"transform": [{"aggregate": [{"op": "count", "as": "n"}]}], "mark": {"type": "rect", "fill": "white", "stroke": "#3a3a3a", "strokeWidth": 1, "yOffset": -8}},
       {"mark": {"type": "rect", "fill": "white", "stroke": "#3a3a3a", "strokeWidth": 1},
        "encoding": {"y": {"field": "label", "type": "nominal", "scale": {"type": "band", "domain": ["公開した", "公開していない"], "paddingInner": 0.378, "paddingOuter": 0.378, "round": false}, "axis": null}}},
       {"mark": {"type": "text", "fontSize": 14, "font": "Liberation Sans", "color": "#231f20"},
        "encoding": {"y": {"field": "label", "type": "nominal"}, "text": {"field": "score", "type": "quantitative", "format": ".1f"}}}
      ]}
    ]}
   ]
  }
 ]
}
